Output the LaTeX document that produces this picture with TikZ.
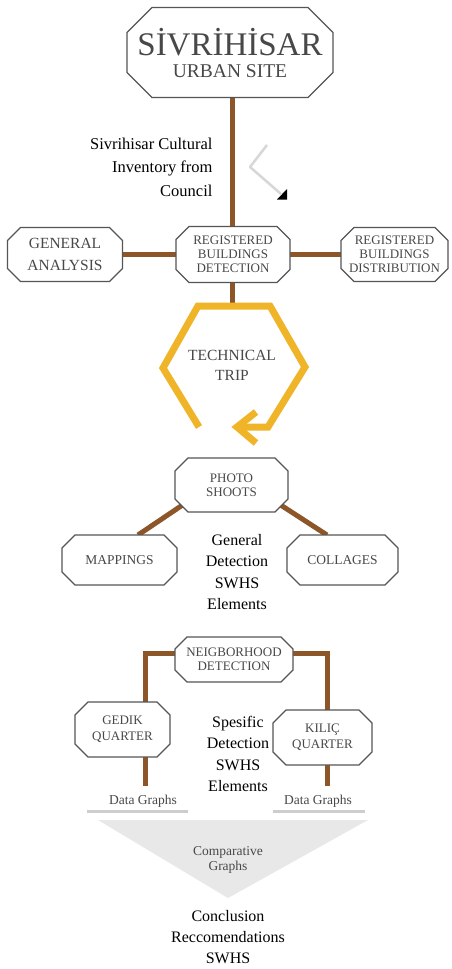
\documentclass[tikz,border=0pt]{standalone}
\usepackage{fontspec}
\setmainfont{Liberation Serif}
\usetikzlibrary{calc,arrows.meta}
\pgfdeclarelayer{bg}
\pgfdeclarelayer{oct}
\pgfsetlayers{bg,oct,main}
\definecolor{brownc}{RGB}{140,86,40}
\definecolor{yellowc}{RGB}{240,180,40}
\definecolor{boxtext}{RGB}{72,72,72}
\definecolor{boxline}{RGB}{85,85,85}
\definecolor{bargray}{RGB}{205,205,205}
\definecolor{trigray}{RGB}{232,232,232}
\definecolor{arrgray}{RGB}{215,215,215}
\newcommand\octa[2]{%
  \draw[octline] ($(#1.north west)+(#2,0)$) -- ($(#1.north east)+(-#2,0)$)
    -- ($(#1.north east)+(0,-#2)$) -- ($(#1.south east)+(0,#2)$)
    -- ($(#1.south east)+(-#2,0)$) -- ($(#1.south west)+(#2,0)$)
    -- ($(#1.south west)+(0,#2)$) -- ($(#1.north west)+(0,-#2)$) -- cycle;}
\tikzset{
  box/.style={rectangle, inner sep=0pt, outer sep=0pt, align=center, text=boxtext,
    font=\fontsize{13}{14}\selectfont},
  octline/.style={draw=boxline, line width=1.1pt, fill=white, line join=miter},
  brownline/.style={draw=brownc, line width=5pt},
  yellowline/.style={draw=yellowc, line width=7pt, line join=miter},
  blacktext/.style={align=center, text=black, font=\fontsize{16}{21.5}\selectfont},
  graytext/.style={align=center, text=boxtext, font=\fontsize{13.5}{15}\selectfont},
}
\begin{document}
\begin{tikzpicture}[x=1pt,y=1pt]
\useasboundingbox (0,0) rectangle (451,-969);
\begin{pgfonlayer}{bg}
\fill[white] (0,0) rectangle (451,-969);
\end{pgfonlayer}

% boxes
\node[box, minimum width=206, minimum height=90] (top) at (230,-52.5) {};
\node[anchor=base, text=boxtext, font=\fontsize{33}{33}\selectfont] (toptitle) at (230,-55) {SİVRİHİSAR};
\node[anchor=base, text=boxtext, font=\fontsize{19.5}{20}\selectfont] (topsub) at (230,-77.5) {URBAN SITE};

\node[box, minimum width=115, minimum height=54, font=\fontsize{15.5}{22}\selectfont] (ga) at (65,-254.5) {GENERAL\\ANALYSIS};
\node[box, minimum width=114, minimum height=56] (rbd) at (233,-254.5) {REGISTERED\\BUILDINGS\\DETECTION};
\node[box, minimum width=107, minimum height=54] (rbdist) at (394.5,-254.5) {REGISTERED\\BUILDINGS\\DISTRIBUTION};

\node[text=boxtext, align=center, font=\fontsize{15.5}{20}\selectfont] (tt) at (232,-365) {TECHNICAL\\TRIP};

\node[box, minimum width=113, minimum height=54] (photo) at (231.5,-485) {PHOTO\\SHOOTS};
\node[box, minimum width=115, minimum height=50, font=\fontsize{13.5}{15}\selectfont] (map) at (119.5,-560) {MAPPINGS};
\node[box, minimum width=111, minimum height=50, font=\fontsize{13.5}{15}\selectfont] (col) at (342.5,-560) {COLLAGES};

\node[box, minimum width=118, minimum height=45] (nbh) at (234,-659.5) {NEIGBORHOOD\\DETECTION};
\node[box, minimum width=95, minimum height=55, font=\fontsize{13}{16}\selectfont] (gedik) at (122.5,-729.5) {GEDIK\\QUARTER};
\node[box, minimum width=99, minimum height=55, font=\fontsize{13}{16}\selectfont] (kilic) at (322.5,-737.5) {KILIÇ\\QUARTER};

% texts
\node[anchor=east, align=right, text=black, font=\fontsize{16.5}{23.5}\selectfont] (inv) at (216,-167) {Sivrihisar Cultural\\Inventory from\\Council};
\node[blacktext] (gd) at (237,-572) {General\\Detection\\SWHS\\Elements};
\node[blacktext] (sd) at (238,-754) {Spesific\\Detection\\SWHS\\Elements};
\node[graytext] (dgl) at (143,-801) {Data Graphs};
\node[graytext] (dgr) at (318,-801) {Data Graphs};
\node[align=center, text=boxtext, font=\fontsize{13.5}{15}\selectfont] (cg) at (228,-859.5) {Comparative\\Graphs};
\node[align=center, text=black, font=\fontsize{16}{21}\selectfont] (concl) at (228,-937) {Conclusion\\Reccomendations\\SWHS};

\coordinate (hextop) at (232,-306);

% octagon borders
\begin{pgfonlayer}{oct}
\octa{top}{25}
\octa{ga}{13}
\octa{rbd}{13}
\octa{rbdist}{13}
\octa{photo}{13}
\octa{map}{13}
\octa{col}{13}
\octa{nbh}{12}
\octa{gedik}{13}
\octa{kilic}{13}
\end{pgfonlayer}

% connectors
\begin{pgfonlayer}{bg}
\fill[trigray] (98,-820) -- (368,-820) -- (228,-898) -- cycle;
\draw[brownline] (rbd.north -| 232,0) -- (top.south -| 232,0);
\draw[brownline] (ga.east) -- (rbd.west);
\draw[brownline] (rbd.east) -- (rbdist.west);
\draw[brownline] (rbd.south -| 232,0) -- (hextop);
\draw[brownline] ($(photo.south west)+(12,10)$) -- ($(map.north west)+(76,0)$);
\draw[brownline] ($(photo.south east)+(-12,10)$) -- ($(col.north west)+(40,0)$);
\draw[brownline] ($(nbh.west)+(2,6.5)$) -| ($(gedik.north)+(22.5,0)$);
\draw[brownline] ($(nbh.east)+(-2,6.5)$) -| ($(kilic.north)+(4.5,0)$);
\draw[brownline] ($(gedik.south)+(22.5,0)$) -- ($(dgl.north)+(2,5)$);
\draw[brownline] ($(kilic.south)+(4.5,0)$) -- ($(dgr.north)+(9,5)$);
\end{pgfonlayer}

% technical trip loop
\draw[yellowline] (199,-427) -- (163,-368) -- (hextop -| 198,0) -- (hextop -| 270,0) -- (305,-367) -- (268,-427) -- (237,-427);
\draw[yellowline] (256,-412) -- (237,-427) -- (256,-443);

% gray arrow
\draw[arrgray, line width=2.5pt, line join=round] (267,-145) -- (250,-167) -- (281,-194);
\fill[black] (277,-199.5) -- (287,-189) -- (287,-199.5) -- cycle;

% data graph bars
\draw[bargray, line width=3pt] (87,-811.5) -- (188,-811.5);
\draw[bargray, line width=3pt] (273,-811.5) -- (365,-811.5);
\end{tikzpicture}
\end{document}
